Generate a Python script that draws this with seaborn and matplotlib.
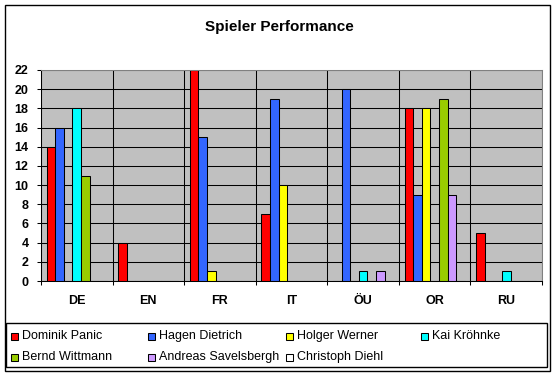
import numpy as np
import pandas as pd
import seaborn as sns
import matplotlib.pyplot as plt
from matplotlib.patches import Rectangle

# Data
laender = ['DE', 'EN', 'FR', 'IT', 'ÖU', 'OR', 'RU']
spieler = ['Dominik Panic', 'Hagen Dietrich', 'Holger Werner', 'Kai Kröhnke',
           'Bernd Wittmann', 'Andreas Savelsbergh', 'Christoph Diehl']
farben = ['#FF0000', '#3366FF', '#FFFF00', '#00FFFF', '#99CC00', '#CC99FF', '#FFFFFF']

dominik = [14, 4, 22, 7, 0, 18, 5]
hagen = [16, 0, 15, 19, 20, 9, 0]
holger = [0, 0, 1, 10, 0, 18, 0]
kai = [18, 0, 0, 0, 1, 0, 1]
bernd = [11, 0, 0, 0, 0, 19, 0]
andreas = [0, 0, 0, 0, 1, 9, 0]
christoph = [0, 0, 0, 0, 0, 0, 0]

werte = [dominik, hagen, holger, kai, bernd, andreas, christoph]
rows = []
for name, vals in zip(spieler, werte):
    for land, v in zip(laender, vals):
        rows.append({'land': land, 'spieler': name, 'wert': v})
df = pd.DataFrame(rows)
#-------------------------------------------------------------------------------

plt.rcParams['font.family'] = ['Liberation Sans', 'DejaVu Sans']

W, H = 557, 375
fig = plt.figure(figsize=(W / 100, H / 100), dpi=100)
ax = fig.add_axes([41 / W, 1 - 281 / H, 501 / W, 211 / H])

sns.barplot(data=df, x='land', y='wert', hue='spieler', order=laender, hue_order=spieler,
            palette=farben, saturation=1, width=0.84, edgecolor='black', linewidth=0.75,
            legend=False, ax=ax)

ax.set_facecolor('#C0C0C0')
ax.set_xlim(-0.5, 6.5)
ax.set_ylim(0, 22)
ax.set_yticks(range(0, 23, 2))
ax.set_xticks(np.arange(-0.5, 7, 1), minor=True)
ax.set_xlabel('')
ax.set_ylabel('')

ax.set_axisbelow(True)
ax.grid(axis='y', which='major', color='black', linewidth=0.75)
ax.grid(axis='x', which='minor', color='black', linewidth=0.75)
ax.grid(axis='x', which='major', visible=False)

ax.tick_params(axis='x', which='major', length=0, pad=10, labelsize=9)
ax.tick_params(axis='x', which='minor', length=3, width=0.75, direction='out')
ax.tick_params(axis='y', length=3, width=0.75, pad=6, labelsize=9)
for lab in ax.get_xticklabels() + ax.get_yticklabels():
    lab.set_fontweight('bold')

for s in ['left', 'bottom']:
    ax.spines[s].set_color('black')
    ax.spines[s].set_linewidth(0.75)
for s in ['top', 'right']:
    ax.spines[s].set_color('#808080')
    ax.spines[s].set_linewidth(0.75)

# Title
fig.text(279 / W, 1 - 27 / H, 'Spieler Performance', ha='center', va='center',
         fontsize=11, fontweight='bold')

# Legend box (Excel style, equal column widths)
fig.patches.append(Rectangle((6 / W, 1 - 367 / H), 541 / W, 44 / H, transform=fig.transFigure,
                             fill=False, edgecolor='black', linewidth=1))
col_x = [11, 148, 286, 421]
row_y = [336, 357]
for i, (name, c) in enumerate(zip(spieler, farben)):
    x = col_x[i % 4]
    y = row_y[i // 4]
    fig.patches.append(Rectangle((x / W, 1 - (y + 3.5) / H), 7 / W, 7 / H, transform=fig.transFigure,
                                 facecolor=c, edgecolor='black', linewidth=0.75))
    fig.text((x + 11) / W, 1 - y / H, name, ha='left', va='center', fontsize=9)

# Outer frame
fig.patches.append(Rectangle((5 / W, 1 - 371 / H), 545 / W, 366 / H, transform=fig.transFigure,
                             fill=False, edgecolor='black', linewidth=1))

fig.savefig('out.png', dpi=100)
